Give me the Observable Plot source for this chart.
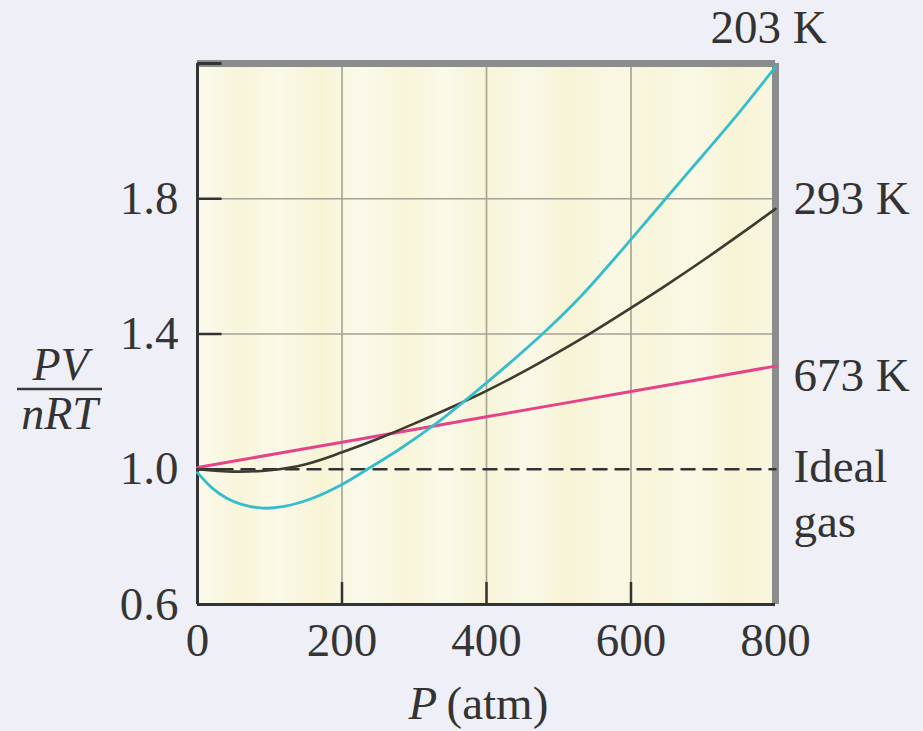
<!DOCTYPE html>
<html>
<head>
<meta charset="utf-8">
<script src="https://cdn.jsdelivr.net/npm/d3@7"></script>
<script src="https://cdn.jsdelivr.net/npm/@observablehq/plot@0.6"></script>
<style>
  html, body { margin: 0; padding: 0; background: #eff0f7; }
  #chart svg { display: block; }
</style>
</head>
<body>
<div id="chart"></div>
<script>
// ---- data ----
const xTicks = [0, 200, 400, 600, 800];
const yTicks = [0.6, 1.0, 1.4, 1.8];

const p203 = [0, 20, 40, 60, 90, 120, 160, 200, 235, 280, 330, 380, 430, 480, 530, 580, 630, 680, 740, 800];
const z203 = [0.99, 0.945, 0.915, 0.897, 0.885, 0.89, 0.915, 0.955, 1.0, 1.06, 1.135, 1.22, 1.31, 1.405, 1.51, 1.63, 1.755, 1.88, 2.03, 2.19];

const p293 = [0, 50, 100, 150, 200, 250, 300, 350, 400, 450, 500, 550, 600, 650, 700, 750, 800];
const z293 = [1.0, 0.993, 0.997, 1.015, 1.05, 1.09, 1.135, 1.182, 1.232, 1.287, 1.347, 1.41, 1.477, 1.546, 1.618, 1.693, 1.77];

const p673 = [0, 200, 400, 600, 800];
const z673 = [1.005, 1.08, 1.155, 1.23, 1.305];

const idealP = [0, 800];
const idealZ = [1.0, 1.0];

const labelText = ["203 K", "293 K", "673 K", "Ideal", "gas"];
const labelY = [2.306, 1.8, 1.277, 1.008, 0.845];

const series = [
  {name: "203 K", P: p203, Z: z203, color: "#35bccd"},
  {name: "293 K", P: p293, Z: z293, color: "#3b3b30"},
  {name: "673 K", P: p673, Z: z673, color: "#e4438a"}
];

const rows = s => s.P.map((p, i) => ({P: p, Z: s.Z[i], name: s.name}));
const ideal = idealP.map((p, i) => ({P: p, Z: idealZ[i]}));
const labels = labelText.map((t, i) => ({text: t, y: labelY[i], first: i === 0}));

const serif = "'Liberation Serif', 'Times New Roman', serif";

const plot = Plot.plot({
  width: 923,
  height: 731,
  marginLeft: 197,
  marginRight: 148,
  marginTop: 63,
  marginBottom: 127,
  style: {fontFamily: serif, fontSize: "47px", color: "#353535", background: "#eff0f7", overflow: "visible"},
  x: {domain: [0, 800], ticks: xTicks, tickSize: 0, tickPadding: 18, label: null},
  y: {domain: [0.6, 2.2], ticks: yTicks, tickSize: 0, tickPadding: 19, label: null, tickFormat: d => d.toFixed(1)},
  marks: [
    Plot.frame({fill: "url(#bgstripes)", stroke: null}),
    Plot.gridX([200, 400, 600], {stroke: "#a3a294", strokeOpacity: 1, strokeWidth: 1.6}),
    Plot.gridY([1.4, 1.8], {stroke: "#a3a294", strokeOpacity: 1, strokeWidth: 1.6}),
    // inner tick marks
    Plot.ruleY(yTicks.slice(1), {x1: 0, x2: 34, stroke: "#333", strokeWidth: 2.5}),
    Plot.ruleX(xTicks.slice(1), {y1: 0.6, y2: 0.665, stroke: "#333", strokeWidth: 2.5}),
    // frame
    Plot.ruleY([2.2], {stroke: "#8c8c8c", strokeWidth: 7}),
    Plot.ruleX([800], {stroke: "#8c8c8c", strokeWidth: 7}),
    Plot.ruleX([0], {stroke: "#333", strokeWidth: 3}),
    Plot.ruleY([0.6], {stroke: "#333", strokeWidth: 3}),
    Plot.ruleY([2.2], {x1: 0, x2: 34, stroke: "#333", strokeWidth: 3}),
    // ideal gas
    Plot.line(ideal, {x: "P", y: "Z", stroke: "#333", strokeWidth: 2.5, strokeDasharray: "13,9"}),
    // curves
    Plot.line(rows(series[2]), {x: "P", y: "Z", stroke: series[2].color, strokeWidth: 3, curve: "catmull-rom"}),
    Plot.line(rows(series[1]), {x: "P", y: "Z", stroke: series[1].color, strokeWidth: 2.6, curve: "catmull-rom"}),
    Plot.line(rows(series[0]), {x: "P", y: "Z", stroke: series[0].color, strokeWidth: 2.8, curve: "catmull-rom"}),
    // right labels
    Plot.text(labels.filter(d => d.first), {x: () => 800, y: "y", text: "text", textAnchor: "middle", dx: -7, fontSize: 47, fill: "#333"}),
    Plot.text(labels.filter(d => !d.first), {x: () => 800, y: "y", text: "text", textAnchor: "start", dx: 18, fontSize: 47, fill: "#333"}),
    // axis labels
    Plot.text(["PV"], {frameAnchor: "left", textAnchor: "middle", lineAnchor: "middle", dx: -137, dy: 31, text: d => d, fontStyle: "italic", fontSize: 46, fill: "#333"}),
    Plot.text(["nRT"], {frameAnchor: "left", textAnchor: "middle", lineAnchor: "middle", dx: -138, dy: 80, text: d => d, fontStyle: "italic", fontSize: 46, fill: "#333"}),
    Plot.text(["P"], {frameAnchor: "bottom", lineAnchor: "middle", dx: -78, dy: 99, text: d => d, textAnchor: "start", fontStyle: "italic", fontSize: 47, fill: "#333"}),
    Plot.text(["(atm)"], {frameAnchor: "bottom", lineAnchor: "middle", dx: -40, dy: 99, text: d => d, textAnchor: "start", fontSize: 47, fill: "#333"})
  ]
});

// background stripes and fraction bar (decoration)
const svg = d3.select(plot);
const defs = svg.insert("defs", ":first-child");
const grad = defs.append("linearGradient").attr("id", "bgstripes").attr("x1", "0").attr("x2", "1").attr("y1", "0").attr("y2", "0");
const stripeColors = ["#fbfaec", "#f8f5da", "#fbf9e8", "#f7f4d6", "#fbfaeb", "#f8f5d9", "#fbf9e9", "#f7f4d7", "#faf9e8", "#f7f3d5", "#faf8e4", "#f8f5da", "#faf9e6", "#f7f3d5", "#f9f7e1"];
stripeColors.forEach((c, i) => grad.append("stop").attr("offset", i / (stripeColors.length - 1)).attr("stop-color", c));
svg.append("line").attr("x1", 17).attr("x2", 102).attr("y1", 389).attr("y2", 389).attr("stroke", "#3a3a3a").attr("stroke-width", 2.5);

document.getElementById("chart").appendChild(plot);
</script>
</body>
</html>
